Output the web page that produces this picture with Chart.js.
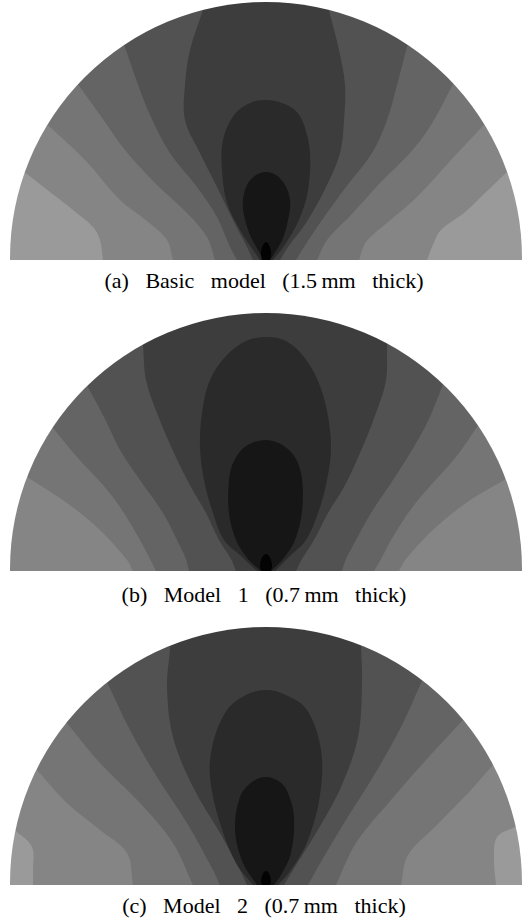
<!DOCTYPE html>
<html>
<head>
<meta charset="utf-8">
<script src="https://cdn.jsdelivr.net/npm/chart.js@4.4.1/dist/chart.umd.min.js"></script>
<style>
    html, body { margin: 0; padding: 0; background: #fff; }
    body { width: 528px; height: 922px; position: relative; overflow: hidden; }
    .panel { position: absolute; left: 0; width: 528px; height: 258px; clip-path: circle(256px at 266px 256px); }
    .caption {
        position: absolute; left: 0; width: 528px; text-align: center;
        font-family: "Liberation Serif", "Times New Roman", serif; font-size: 22px; line-height: 22px;
        color: #000; white-space: pre; word-spacing: 11px;
    }
</style>
</head>
<body>
<div class="panel" style="top:2px"><canvas id="chartA" width="528" height="258"></canvas></div>
<div class="caption" id="capA" style="top:270px"></div>
<div class="panel" style="top:313px"><canvas id="chartB" width="528" height="258"></canvas></div>
<div class="caption" id="capB" style="top:584px"></div>
<div class="panel" style="top:627px"><canvas id="chartC" width="528" height="258"></canvas></div>
<div class="caption" id="capC" style="top:895px"></div>
<script>
// grey of each contour level, lightest (rim corners) to darkest (source)
const levelGrays = ['#9a9a9a', '#858585', '#757575', '#646464', '#525252', '#3d3d3d', '#2a2a2a', '#161616', '#030303'];

const captions = ['(a) Basic model (1.5\u2009mm thick)', '(b) Model 1 (0.7\u2009mm thick)', '(c) Model 2 (0.7\u2009mm thick)'];

// contour traces, [x, height] from the source point; each edge runs from the base line up to the rim
// (a) basic model
const aEdge1L = [[-163, 0], [-166, 20], [-173, 33], [-193, 50], [-216, 68], [-239, 86]];
const aEdge1R = [[161, 0], [166, 13], [175, 30], [198, 47], [218, 66], [240, 87]];
const aEdge2L = [[-93, 0], [-99, 20], [-119, 39], [-146, 60], [-181, 100], [-216, 133]];
const aEdge2R = [[93, 0], [100, 18], [122, 38], [150, 62], [185, 100], [215, 132]];
const aEdge3L = [[-51, 0], [-59, 23], [-79, 47], [-111, 77], [-141, 110], [-161, 138], [-186, 173]];
const aEdge3R = [[51, 0], [61, 20], [85, 45], [115, 78], [144, 107], [165, 135], [185, 172]];
const aEdge4L = [[-29, 0], [-36, 13], [-49, 43], [-69, 73], [-96, 107], [-116, 145], [-126, 170], [-139, 207]];
const aEdge4R = [[30, 0], [38, 13], [56, 40], [80, 73], [106, 107], [121, 140], [131, 175], [141, 213]];
const aEdge5L = [[-13, 0], [-19, 13], [-33, 40], [-49, 73], [-66, 107], [-81, 140], [-81, 175], [-76, 210], [-63, 250]];
const aEdge5R = [[14, 0], [22, 13], [40, 37], [60, 73], [74, 107], [78, 140], [79, 175], [73, 210], [61, 257]];
const aLoop6 = [[-6, 0], [-13, 10], [-26, 30], [-39, 57], [-44, 90], [-43, 120], [-32, 145], [-16, 157], [0, 160],
    [16, 157], [30, 149], [38, 135], [44, 107], [42, 70], [33, 40], [18, 14], [7, 0]];
const aLoop7 = [[-3, 0], [-8, 10], [-16, 25], [-22, 45], [-23, 60], [-19, 75], [-10, 85], [0, 88],
    [10, 85], [19, 75], [24, 60], [23, 45], [17, 22], [8, 6], [4, 0]];
const aLoop8 = [[-4, 0], [-5, 5], [-4.5, 11], [-2.5, 16], [0, 18], [2.5, 16], [4.5, 11], [5, 5], [4, 0]];

// (b) model 1
const bEdge2L = [[-133, 0], [-139, 11], [-166, 41], [-199, 68], [-239, 94]];
const bEdge2R = [[133, 0], [140, 12], [168, 42], [200, 68], [238, 91]];
const bEdge3L = [[-110, 0], [-115, 10], [-126, 31], [-146, 64], [-163, 86], [-189, 114], [-213, 143]];
const bEdge3R = [[108, 0], [114, 10], [125, 31], [145, 62], [165, 86], [190, 114], [211, 144]];
const bEdge4L = [[-77, 0], [-80, 12], [-89, 31], [-103, 58], [-126, 91], [-146, 121], [-160, 150], [-178, 184]];
const bEdge4R = [[76, 0], [80, 12], [90, 31], [105, 58], [127, 91], [146, 121], [162, 150], [176, 184]];
const bEdge5L = [[-30, 0], [-35, 12], [-47, 31], [-60, 58], [-75, 84], [-92, 118], [-109, 158], [-120, 191], [-123, 226]];
const bEdge5R = [[30, 0], [36, 12], [48, 31], [62, 58], [78, 84], [94, 118], [110, 158], [120, 191], [121, 224]];
const bLoop6 = [[-9, 0], [-25, 15], [-42, 31], [-53, 58], [-62, 91], [-66, 124], [-64, 158], [-56, 191], [-40, 215], [-20, 230], [0, 234],
    [20, 230], [38, 214], [52, 190], [61, 160], [65, 124], [61, 91], [52, 58], [40, 31], [24, 15], [9, 0]];
const bLoop7 = [[-5, 0], [-18, 12], [-30, 31], [-37, 58], [-37, 91], [-32, 110], [-20, 125], [0, 131],
    [18, 125], [30, 112], [36, 92], [36, 60], [29, 31], [17, 12], [5, 0]];
const bLoop8 = [[-5, 0], [-6, 5], [-5, 11], [-3, 15], [0, 17], [3, 15], [5, 11], [6, 5], [5, 0]];

// (c) model 2
const cEdge1L = [[-233, 0], [-233, 15], [-234, 38], [-251, 55]];
const cEdge1R = [[230, 0], [228, 25], [231, 48], [249, 58]];
const cEdge2L = [[-133, 0], [-139, 32], [-166, 55], [-199, 82], [-229, 115]];
const cEdge2R = [[135, 0], [142, 30], [171, 60], [205, 95], [225, 118]];
const cEdge3L = [[-73, 0], [-93, 42], [-126, 82], [-166, 122], [-199, 162]];
const cEdge3R = [[70, 0], [90, 42], [125, 85], [160, 125], [195, 163]];
const cEdge4L = [[-46, 0], [-53, 15], [-79, 62], [-109, 108], [-136, 155], [-159, 203]];
const cEdge4R = [[42, 0], [52, 18], [78, 62], [107, 108], [135, 158], [155, 202]];
const cEdge5L = [[-19, 0], [-26, 15], [-46, 52], [-73, 98], [-93, 148], [-99, 198], [-96, 235]];
const cEdge5R = [[18, 0], [27, 15], [50, 52], [75, 98], [92, 148], [96, 200], [95, 240]];
const cLoop6 = [[-13, 0], [-30, 22], [-46, 62], [-56, 108], [-53, 142], [-39, 175], [-20, 190], [0, 195],
    [20, 190], [41, 175], [55, 135], [54, 90], [42, 45], [25, 15], [12, 0]];
const cLoop7 = [[-9, 0], [-23, 22], [-31, 55], [-26, 88], [-14, 103], [0, 108], [14, 103], [22, 92], [28, 68], [25, 32], [15, 10], [8, 0]];
const cLoop8 = [[-4, 0], [-5, 4], [-4, 9], [-2, 13], [0, 14], [2, 13], [4, 9], [5, 4], [4, 0]];

const toXY = arr => arr.map(p => ({ x: p[0], y: p[1] }));

// carry the last piece of an edge on past the rim, the panel clip trims it
function pastRim(edge) {
    const a = edge[edge.length - 2], b = edge[edge.length - 1];
    const dx = b[0] - a[0], dy = b[1] - a[1];
    const k = 40 / Math.hypot(dx, dy);
    return [b[0] + dx * k, b[1] + dy * k];
}

function bandShape(left, right) {
    const l = pastRim(left), r = pastRim(right);
    return [...left, l, [l[0] * 1.3, 420], [r[0] * 1.3, 420], r, ...right.slice().reverse()];
}

function drawPanel(id, baseLevel, edges, loops) {
    const shapes = [{ pts: [[-300, -5], [-300, 320], [300, 320], [300, -5]], level: baseLevel, tension: 0 }];
    edges.forEach(e => shapes.push({ pts: bandShape(e[0], e[1]), level: e[2], tension: 0.35 }));
    loops.forEach(l => shapes.push({ pts: l[0], level: l[1], tension: 0.35 }));

    // first dataset is painted last, so innermost goes first
    const datasets = shapes.reverse().map(s => ({
        data: toXY(s.pts),
        showLine: true,
        fill: 'shape',
        backgroundColor: levelGrays[s.level],
        borderWidth: 0,
        pointRadius: 0,
        tension: s.tension
    }));

    new Chart(document.getElementById(id), {
        type: 'scatter',
        data: { datasets },
        options: {
            responsive: false,
            animation: false,
            events: [],
            plugins: { legend: { display: false }, tooltip: { enabled: false } },
            elements: { line: { capBezierPoints: false } },
            scales: {
                x: { type: 'linear', display: false, min: -266, max: 262 },
                y: { type: 'linear', display: false, min: 0, max: 258 }
            }
        }
    });
}

drawPanel('chartA', 0,
    [[aEdge1L, aEdge1R, 1], [aEdge2L, aEdge2R, 2], [aEdge3L, aEdge3R, 3], [aEdge4L, aEdge4R, 4], [aEdge5L, aEdge5R, 5]],
    [[aLoop6, 6], [aLoop7, 7], [aLoop8, 8]]);
drawPanel('chartB', 1,
    [[bEdge2L, bEdge2R, 2], [bEdge3L, bEdge3R, 3], [bEdge4L, bEdge4R, 4], [bEdge5L, bEdge5R, 5]],
    [[bLoop6, 6], [bLoop7, 7], [bLoop8, 8]]);
drawPanel('chartC', 0,
    [[cEdge1L, cEdge1R, 1], [cEdge2L, cEdge2R, 2], [cEdge3L, cEdge3R, 3], [cEdge4L, cEdge4R, 4], [cEdge5L, cEdge5R, 5]],
    [[cLoop6, 6], [cLoop7, 7], [cLoop8, 8]]);

document.getElementById('capA').textContent = captions[0];
document.getElementById('capB').textContent = captions[1];
document.getElementById('capC').textContent = captions[2];
</script>
</body>
</html>
